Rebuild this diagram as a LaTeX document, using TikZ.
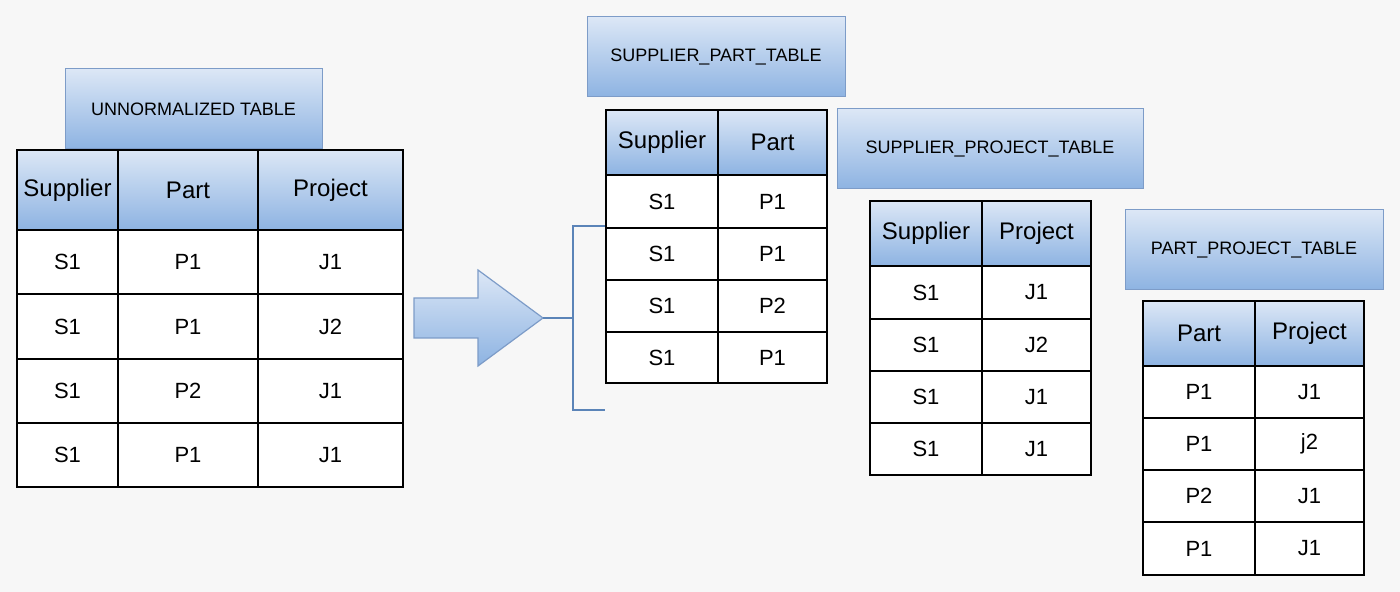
\documentclass[tikz,border=0pt]{standalone}
\usepackage{fontspec}
\setmainfont{Liberation Sans}
\definecolor{bgcol}{HTML}{F7F7F7}
\definecolor{hdtop}{HTML}{DCE7F6}
\definecolor{hdbot}{HTML}{8DB3E2}
\definecolor{hdline}{HTML}{7D9CC8}
\definecolor{brk}{HTML}{5B84B8}
\tikzset{
  cell/.style={draw=black, line width=0.6pt, fill=white, inner sep=0pt, font=\fontsize{11}{13}\selectfont},
  hdr/.style={cell, top color=hdtop, bottom color=hdbot, font=\fontsize{12}{14}\selectfont},
  ttl/.style={draw=hdline, line width=0.5pt, top color=hdtop, bottom color=hdbot, inner sep=0pt, font=\fontsize{9}{11}\selectfont}
}
\begin{document}
\begin{tikzpicture}[x=0.5pt,y=-0.5pt]
\fill[bgcol] (0,0) rectangle (1400,592);
\useasboundingbox (0,0) rectangle (1400,592);

% unnormalized table
\node[ttl, minimum width=128.5pt, minimum height=40pt] (untitle) at (193.5,109) {UNNORMALIZED TABLE};
\node[hdr, minimum width=50.5pt, minimum height=40pt] (un-h1) at (67.5,190) {Supplier};
\node[hdr, minimum width=70pt, minimum height=40pt] (un-h2) at (188,190) {Part};
\node[hdr, minimum width=72.5pt, minimum height=40pt] (un-h3) at (330.5,190) {Project};
\foreach \r/\ya/\yb/\a/\b/\c in {1/230/294/S1/P1/J1, 2/294/359/S1/P1/J2, 3/359/423/S1/P2/J1, 4/423/487/S1/P1/J1}{
  \node[cell, minimum width=50.5pt, minimum height={(\yb-\ya)*0.5pt}] (un-\r-1) at (67.5,{(\ya+\yb)/2}) {\a};
  \node[cell, minimum width=70pt, minimum height={(\yb-\ya)*0.5pt}] (un-\r-2) at (188,{(\ya+\yb)/2}) {\b};
  \node[cell, minimum width=72.5pt, minimum height={(\yb-\ya)*0.5pt}] (un-\r-3) at (330.5,{(\ya+\yb)/2}) {\c};
}

% block arrow and bracket
\draw[hdline, line width=0.6pt, top color=hdtop, bottom color=hdbot]
  (414,298) -- (478,298) -- (478,270) -- (543,318) coordinate (tip) -- (478,366) -- (478,338) -- (414,338) -- cycle;
\coordinate (brtop) at (605,226);
\coordinate (brbot) at (605,410);
\draw[brk, line width=1.2pt] (tip) -- (573,318);
\draw[brk, line width=1.2pt] (brtop) -| (573,318) |- (brbot);

% supplier / part
\node[ttl, minimum width=129pt, minimum height=40pt] (sptitle) at (716,57) {SUPPLIER\_PART\_TABLE};
\node[hdr, minimum width=56pt, minimum height=32.5pt] (sp-h1) at (662,142.5) {Supplier};
\node[hdr, minimum width=54.5pt, minimum height=32.5pt] (sp-h2) at (772.5,142.5) {Part};
\foreach \r/\ya/\yb/\a/\b in {1/175/228/S1/P1, 2/228/280/S1/P1, 3/280/332/S1/P2, 4/332/383/S1/P1}{
  \node[cell, minimum width=56pt, minimum height={(\yb-\ya)*0.5pt}] (sp-\r-1) at (662,{(\ya+\yb)/2}) {\a};
  \node[cell, minimum width=54.5pt, minimum height={(\yb-\ya)*0.5pt}] (sp-\r-2) at (772.5,{(\ya+\yb)/2}) {\b};
}

% supplier / project
\node[ttl, minimum width=153pt, minimum height=40pt] (sjtitle) at (990,149) {SUPPLIER\_PROJECT\_TABLE};
\node[hdr, minimum width=56pt, minimum height=32.5pt] (sj-h1) at (926,233.5) {Supplier};
\node[hdr, minimum width=54.5pt, minimum height=32.5pt] (sj-h2) at (1036.5,233.5) {Project};
\foreach \r/\ya/\yb/\a/\b in {1/266/319/S1/J1, 2/319/371/S1/J2, 3/371/423/S1/J1, 4/423/475/S1/J1}{
  \node[cell, minimum width=56pt, minimum height={(\yb-\ya)*0.5pt}] (sj-\r-1) at (926,{(\ya+\yb)/2}) {\a};
  \node[cell, minimum width=54.5pt, minimum height={(\yb-\ya)*0.5pt}] (sj-\r-2) at (1036.5,{(\ya+\yb)/2}) {\b};
}

% part / project
\node[ttl, minimum width=129pt, minimum height=40pt] (pjtitle) at (1254,250) {PART\_PROJECT\_TABLE};
\node[hdr, minimum width=56pt, minimum height=32.5pt] (pj-h1) at (1199,333.5) {Part};
\node[hdr, minimum width=54.5pt, minimum height=32.5pt] (pj-h2) at (1309.5,333.5) {Project};
\foreach \r/\ya/\yb/\a/\b in {1/366/418/P1/J1, 2/418/470/P1/j2, 3/470/522/P2/J1, 4/522/575/P1/J1}{
  \node[cell, minimum width=56pt, minimum height={(\yb-\ya)*0.5pt}] (pj-\r-1) at (1199,{(\ya+\yb)/2}) {\a};
  \node[cell, minimum width=54.5pt, minimum height={(\yb-\ya)*0.5pt}] (pj-\r-2) at (1309.5,{(\ya+\yb)/2}) {\b};
}
\end{tikzpicture}
\end{document}
